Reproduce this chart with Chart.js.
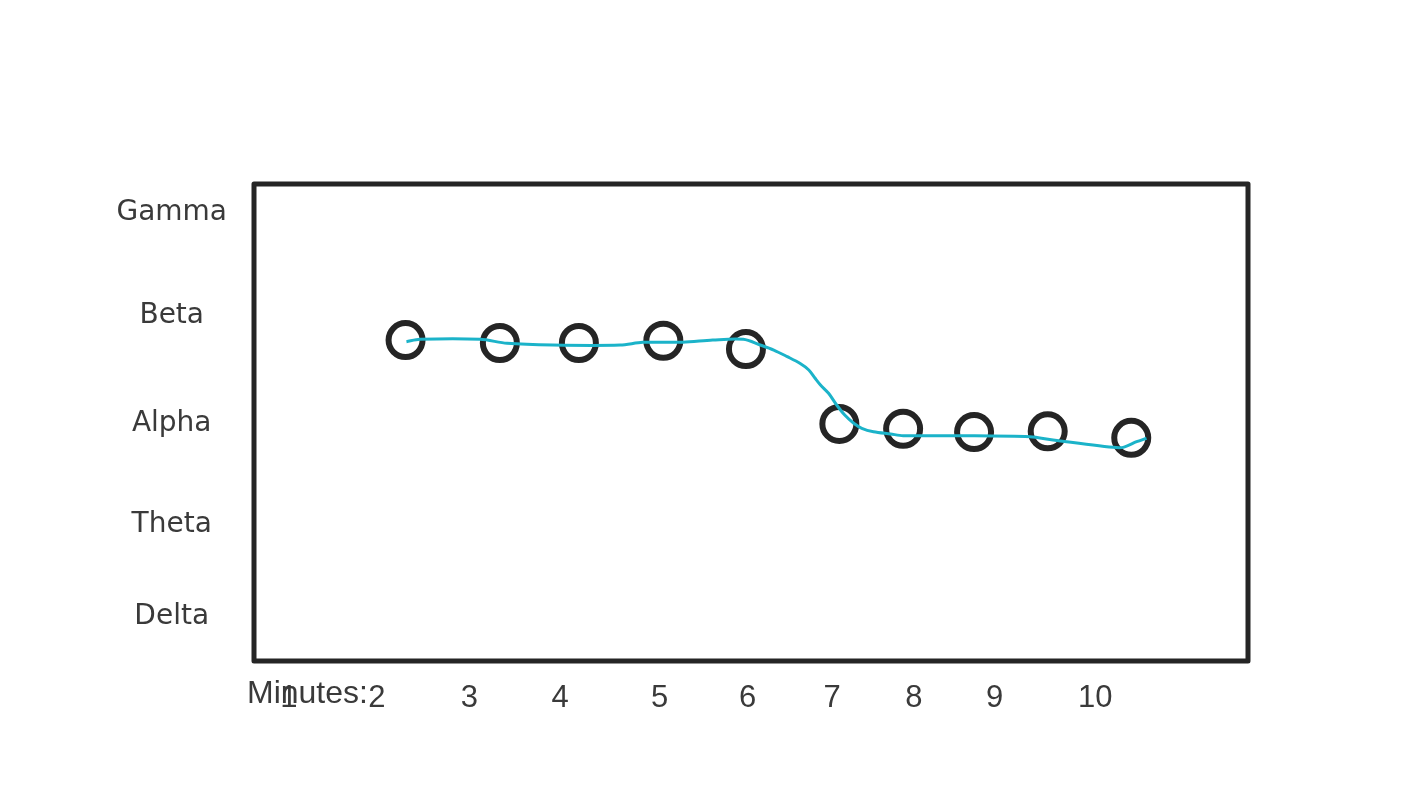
<!DOCTYPE html>
<html>
<head>
<meta charset="utf-8">
<style>
  html, body { margin: 0; padding: 0; background: #fff; }
  #wrap { width: 1422px; height: 800px; }
</style>
<script src="https://cdn.jsdelivr.net/npm/chart.js@4.4.1/dist/chart.umd.min.js"></script>
</head>
<body>
<div id="wrap"><canvas id="c" width="1422" height="800"></canvas></div>
<script>
// Boceto de bandas EEG por minuto: circulos = lecturas, linea cian = trazo a mano.

// eje Y: bandas (posiciones leidas del dibujo, no equiespaciadas)
const bandLabels = ['Gamma', 'Beta', 'Alpha', 'Theta', 'Delta']
const bandPos = [3.98, 2.975, 1.915, 0.92, 0.02]

// eje X: minutos (el dibujo no los reparte uniformes)
const minuteLabels = ['1', '2', '3', '4', '5', '6', '7', '8', '9', '10']
const minutePos = [1.02, 2.0, 3.03, 4.04, 5.15, 6.13, 7.07, 7.98, 8.88, 10.0]

// lecturas (circulos)
const readX = [2.32, 3.37, 4.25, 5.19, 6.11, 7.15, 7.86, 8.65, 9.47, 10.40]
const readY = [2.735, 2.706, 2.706, 2.728, 2.647, 1.912, 1.865, 1.833, 1.840, 1.776]

// trazo cian
const traceX = [2.33, 2.48, 3.15, 3.45, 3.96, 4.71, 4.96, 5.41, 5.74, 6.08, 6.27, 6.42, 6.57, 6.71,
  6.81, 6.88, 6.94, 7.03, 7.12, 7.21, 7.31, 7.40, 7.53, 7.72, 7.86, 8.49, 9.27, 9.53, 10.20, 10.31,
  10.46, 10.57]
const traceY = [2.719, 2.742, 2.742, 2.703, 2.686, 2.686, 2.713, 2.713, 2.735, 2.742, 2.686, 2.637,
  2.572, 2.507, 2.441, 2.360, 2.294, 2.213, 2.098, 2.000, 1.919, 1.870, 1.836, 1.814, 1.797, 1.797,
  1.787, 1.755, 1.683, 1.683, 1.738, 1.772]

const INK = '#252525'
const TEXT = '#3a3a3a'

const boxPlugin = {
  id: 'box',
  beforeDatasetsDraw(chart) {
    const { ctx, chartArea: a } = chart
    ctx.save()
    ctx.strokeStyle = INK
    ctx.lineWidth = 5
    ctx.lineJoin = 'round'
    ctx.strokeRect(a.left, a.top, a.right - a.left, a.bottom - a.top)
    ctx.restore()
  },
  afterDraw(chart) {
    const { ctx } = chart
    const x = chart.scales.x
    ctx.save()
    ctx.font = '32px "Liberation Sans", Arial, sans-serif'
    ctx.fillStyle = TEXT
    ctx.textAlign = 'left'
    ctx.textBaseline = 'alphabetic'
    ctx.fillText('Minutes:', x.left - 7, x.top + 42)
    ctx.restore()
  },
}

new Chart(document.getElementById('c'), {
  type: 'scatter',
  data: {
    datasets: [
      {
        type: 'line',
        data: traceX.map((x, i) => ({ x, y: traceY[i] })),
        borderColor: '#1bb3c9',
        borderWidth: 3,
        pointRadius: 0,
        fill: false,
        tension: 0.3,
        order: 0,
      },
      {
        data: readX.map((x, i) => ({ x, y: readY[i] })),
        pointStyle: 'circle',
        pointRadius: 17,
        pointBorderWidth: 6,
        borderColor: INK,
        backgroundColor: 'rgba(0,0,0,0)',
        showLine: false,
        order: 1,
      },
    ],
  },
  options: {
    responsive: false,
    animation: false,
    layout: { padding: { top: 184, right: 174, left: 0, bottom: 0 } },
    plugins: { legend: { display: false }, tooltip: { enabled: false } },
    scales: {
      x: {
        type: 'linear',
        min: 0.6325,
        max: 11.70,
        grid: { display: false, drawTicks: false },
        border: { display: false },
        afterBuildTicks: (s) => { s.ticks = minutePos.map((v) => ({ value: v })) },
        afterFit: (s) => { s.height = 139 },
        ticks: {
          autoSkip: false,
          maxRotation: 0,
          padding: 19,
          color: TEXT,
          font: { family: '"Liberation Sans", Arial, sans-serif', size: 31 },
          callback: (v, i) => minuteLabels[i],
        },
      },
      y: {
        type: 'linear',
        min: -0.412,
        max: 4.265,
        grid: { display: false, drawTicks: false },
        border: { display: false },
        afterBuildTicks: (s) => { s.ticks = bandPos.map((v) => ({ value: v })) },
        afterFit: (s) => { s.width = 254 },
        ticks: {
          autoSkip: false,
          crossAlign: 'center',
          padding: 27,
          color: TEXT,
          font: { family: '"DejaVu Sans", sans-serif', size: 28 },
          callback: (v, i) => bandLabels[i],
        },
      },
    },
  },
  plugins: [boxPlugin],
})
</script>
</body>
</html>
